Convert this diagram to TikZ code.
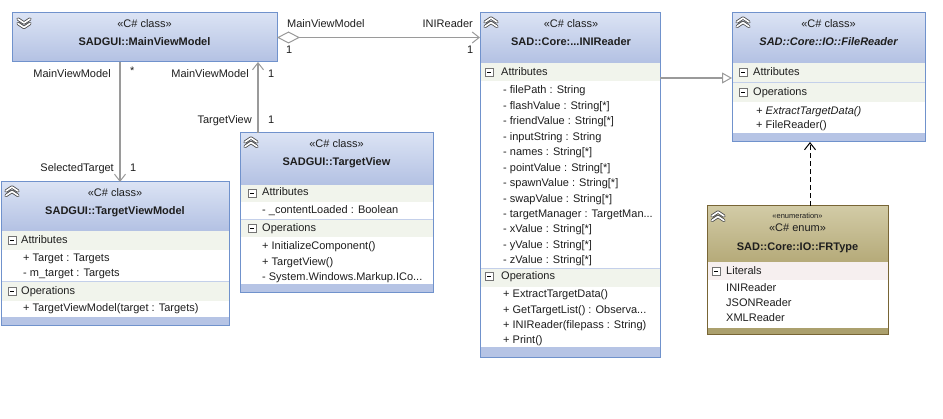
\documentclass[tikz,border=0pt]{standalone}
\usepackage{fontspec}
\setmainfont{Liberation Sans}
\usetikzlibrary{arrows.meta}
\definecolor{cbord}{HTML}{7092CC}
\definecolor{chtop}{HTML}{DBE3F4}
\definecolor{chbot}{HTML}{B3C1E3}
\definecolor{cband}{HTML}{F1F4EC}
\definecolor{csep}{HTML}{C4D0EA}
\definecolor{cfoot}{HTML}{B6C4E5}
\definecolor{ebord}{HTML}{786535}
\definecolor{ehtop}{HTML}{D2CBA6}
\definecolor{ehbot}{HTML}{B5AA79}
\definecolor{eband}{HTML}{F6EFEF}
\definecolor{efoot}{HTML}{ABA06D}
\definecolor{cline}{HTML}{9A9A9A}
\definecolor{ctext}{HTML}{1E1E1E}
\tikzset{
  txt/.style={anchor=base west, inner sep=0pt, font=\fontsize{11}{13}\selectfont, text=ctext},
  ctr/.style={anchor=base},
  rgt/.style={anchor=base east},
  bold/.style={font=\fontsize{11}{13}\selectfont\bfseries},
  bolditalic/.style={font=\fontsize{11}{13}\selectfont\bfseries\itshape},
  ital/.style={font=\fontsize{11}{13}\selectfont\itshape},
  tiny/.style={font=\fontsize{7.5}{9}\selectfont},
  classbox/.style={draw=cbord, line width=1pt, inner sep=0pt, outer sep=0pt, anchor=north west},
  enumbox/.style={classbox, draw=ebord},
  assoc/.style={draw=cline, line width=1.3pt},
  barb/.style={-{Straight Barb[length=7pt,width=11pt,line width=1pt]}},
}
\newcounter{tn}
\newcommand\T[4][]{\stepcounter{tn}\node[txt,#1] (t\arabic{tn}) at (#2,#3) {#4};}
\newcommand\Hdr[6]{\shade[top color=#5, bottom color=#6] (#1,#2) rectangle (#3,#4);}
\newcommand\Band[5]{\fill[#5] (#1,#2) rectangle (#3,#4);}
\newcommand\Sep[4]{\draw[#4, line width=0.8pt] (#1,#3) -- (#2,#3);}
\newcommand\Minus[2]{%
  \draw[black!55, line width=0.6pt, fill=white] (#1,#2-4) rectangle (#1+8,#2+4);
  \draw[black, line width=0.9pt] (#1+2,#2) -- (#1+6,#2);}
\newcommand\ChevUp[2]{%
  \draw[black!70, line width=3.2pt, line cap=round, line join=round]
    (#1,#2+5) -- (#1+6,#2+1) -- (#1+12,#2+5) (#1,#2+9.5) -- (#1+6,#2+5.5) -- (#1+12,#2+9.5);
  \draw[white, line width=1.6pt, line cap=round, line join=round]
    (#1,#2+5) -- (#1+6,#2+1) -- (#1+12,#2+5) (#1,#2+9.5) -- (#1+6,#2+5.5) -- (#1+12,#2+9.5);}
\newcommand\ChevDown[2]{%
  \draw[black!70, line width=3.2pt, line cap=round, line join=round]
    (#1,#2+1) -- (#1+6,#2+5) -- (#1+12,#2+1) (#1,#2+5.5) -- (#1+6,#2+9.5) -- (#1+12,#2+5.5);
  \draw[white, line width=1.6pt, line cap=round, line join=round]
    (#1,#2+1) -- (#1+6,#2+5) -- (#1+12,#2+1) (#1,#2+5.5) -- (#1+6,#2+9.5) -- (#1+12,#2+5.5);}
\begin{document}
\begin{tikzpicture}[x=1pt,y=-1pt]
\useasboundingbox (0,0) rectangle (943,419);
\fill[white] (0,0) rectangle (943,419);

% ---------- MainViewModel ----------
\Hdr{12}{13}{277}{62}{chtop}{chbot}
\ChevDown{18}{18}
\T[ctr]{144.5}{28}{«C\# class»}
\T[ctr,bold]{144.5}{46}{SADGUI::MainViewModel}
\node[classbox, minimum width=265pt, minimum height=49pt] (mvm) at (12,13) {};

% ---------- TargetView ----------
\Hdr{240}{133}{433}{185}{chtop}{chbot}
\Band{240}{185}{433}{202}{cband}
\Band{240}{219}{433}{237}{cband}
\Sep{240}{433}{219}{csep}
\Band{240}{284}{433}{293}{cfoot}
\ChevUp{245}{137}
\T[ctr]{336.5}{148}{«C\# class»}
\T[ctr,bold]{336.5}{166}{SADGUI::TargetView}
\Minus{248}{193}
\T{262}{196}{Attributes}
\T{262}{214}{- \_contentLoaded : Boolean}
\Minus{248}{228}
\T{262}{232}{Operations}
\T{262}{250}{+ InitializeComponent()}
\T{262}{265.5}{+ TargetView()}
\T{262}{281}{- System.Windows.Markup.ICo...}
\node[classbox, minimum width=193pt, minimum height=160pt] (tv) at (240,133) {};

% ---------- TargetViewModel ----------
\Hdr{1}{182}{229}{231}{chtop}{chbot}
\Band{1}{231}{229}{250}{cband}
\Band{1}{281}{229}{301}{cband}
\Sep{1}{229}{281}{csep}
\Band{1}{317}{229}{326}{cfoot}
\ChevUp{6}{186}
\T[ctr]{115}{197}{«C\# class»}
\T[ctr,bold]{115}{215}{SADGUI::TargetViewModel}
\Minus{8}{240.5}
\T{21}{244}{Attributes}
\T{23}{262}{+ Target : Targets}
\T{23}{277}{- m\_target : Targets}
\Minus{8}{291}
\T{21}{295}{Operations}
\T{23}{312}{+ TargetViewModel(target : Targets)}
\node[classbox, minimum width=228pt, minimum height=144pt] (tvm) at (1,182) {};

% ---------- INIReader ----------
\Hdr{480}{13}{660}{63}{chtop}{chbot}
\Band{480}{63}{660}{81}{cband}
\Band{480}{268}{660}{287}{cband}
\Sep{480}{660}{268}{csep}
\Band{480}{347}{660}{358}{cfoot}
\ChevUp{485}{17}
\T[ctr]{571}{28}{«C\# class»}
\T[ctr,bold]{571}{46}{SAD::Core:...INIReader}
\Minus{485}{72.5}
\T{501}{76}{Attributes}
\T{503}{94}{- filePath : String}
\T{503}{109.5}{- flashValue : String[*]}
\T{503}{125}{- friendValue : String[*]}
\T{503}{140.4}{- inputString : String}
\T{503}{155.8}{- names : String[*]}
\T{503}{171.3}{- pointValue : String[*]}
\T{503}{186.7}{- spawnValue : String[*]}
\T{503}{202.2}{- swapValue : String[*]}
\T{503}{217.6}{- targetManager : TargetMan...}
\T{503}{233}{- xValue : String[*]}
\T{503}{248.5}{- yValue : String[*]}
\T{503}{264}{- zValue : String[*]}
\Minus{485}{276.5}
\T{501}{280}{Operations}
\T{503}{298}{+ ExtractTargetData()}
\T{503}{313.5}{+ GetTargetList() : Observa...}
\T{503}{329}{+ INIReader(filepass : String)}
\T{503}{344}{+ Print()}
\node[classbox, minimum width=180pt, minimum height=345pt] (ini) at (480,13) {};

% ---------- FileReader ----------
\Hdr{732}{13}{925}{63}{chtop}{chbot}
\Band{732}{63}{925}{82}{cband}
\Band{732}{82}{925}{102}{cband}
\Sep{732}{925}{82}{csep}
\Band{732}{133}{925}{142}{cfoot}
\ChevUp{737}{17}
\T[ctr]{828.5}{28}{«C\# class»}
\T[ctr,bolditalic]{828.5}{46}{SAD::Core::IO::FileReader}
\Minus{739}{72.5}
\T{753}{76}{Attributes}
\Minus{739}{92}
\T{753}{96}{Operations}
\T[ital]{756}{115}{+ ExtractTargetData()}
\T{756}{129}{+ FileReader()}
\node[classbox, minimum width=193pt, minimum height=129pt] (fr) at (732,13) {};

% ---------- FRType ----------
\Hdr{707}{206}{888}{262}{ehtop}{ehbot}
\Band{707}{262}{888}{280}{eband}
\Band{707}{328}{888}{335}{efoot}
\ChevUp{712}{211}
\T[ctr,tiny]{797.5}{219}{«enumeration»}
\T[ctr]{797.5}{232}{«C\# enum»}
\T[ctr,bold]{797.5}{251}{SAD::Core::IO::FRType}
\Minus{712}{271}
\T{726}{275}{Literals}
\T{726}{292}{INIReader}
\T{726}{307}{JSONReader}
\T{726}{322}{XMLReader}
\node[enumbox, minimum width=181pt, minimum height=129pt] (frt) at (707,206) {};

% ---------- connectors ----------
\draw[assoc, barb] ([xshift=108pt]mvm.south west) -- ([xshift=108pt]mvm.south west |- tvm.north);
\T[rgt]{111}{78}{MainViewModel}
\T{130}{75}{*}
\T[rgt]{114}{172}{SelectedTarget}
\T{130}{172}{1}

\draw[assoc, barb] ([xshift=18pt]tv.north west) -- ([xshift=18pt]tv.north west |- mvm.south);
\T[rgt]{249}{78}{MainViewModel}
\T{268}{78}{1}
\T[rgt]{252}{124}{TargetView}
\T{268}{124}{1}

\draw[assoc, {Diamond[open,length=23pt,width=12pt,line width=1pt,fill=white]}-{Straight Barb[length=7pt,width=11pt,line width=1pt]}]
  (mvm.east) -- (ini.west |- mvm.east);
\T{287}{28}{MainViewModel}
\T{286}{54}{1}
\T[rgt]{473}{28}{INIReader}
\T{467}{54}{1}

\coordinate (genstart) at ([yshift=-65pt]ini.north east);
\draw[assoc, -{Triangle[open,length=10pt,width=11pt,line width=1pt,fill=white]}]
  (genstart) -- (fr.west |- genstart);

\draw[black, line width=0.9pt, dash pattern=on 5pt off 3pt, barb]
  ([xshift=103pt]frt.north west) -- ([xshift=103pt]frt.north west |- fr.south);
\end{tikzpicture}
\end{document}
